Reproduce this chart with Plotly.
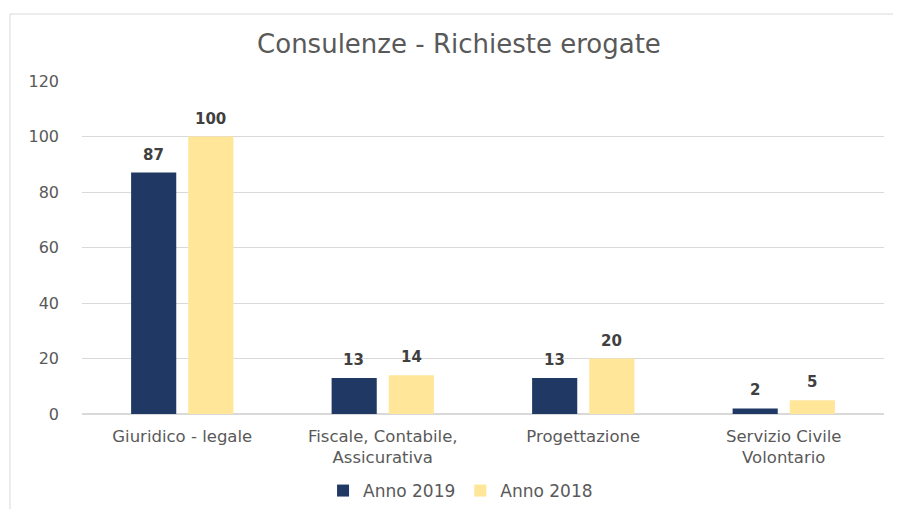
import plotly.graph_objects as go

categories = ["Giuridico - legale", "Fiscale, Contabile,<br>Assicurativa", "Progettazione", "Servizio Civile<br>Volontario"]
anno_2019 = [87, 13, 13, 2]
anno_2018 = [100, 14, 20, 5]
y_ticks = [0, 20, 40, 60, 80, 100, 120]

NAVY = "#1F3864"
YELLOW = "#FFE699"
GREY = "#595959"

# page body adds an 8px margin, so the figure is 8px smaller and coordinates shifted
W, H = 893, 501
L, R, T, B = 74, 17, 73, 95
PW, PH = W - L - R, H - T - B

fig = go.Figure()
fig.add_trace(go.Bar(x=categories, y=anno_2019, name="Anno 2019", marker_color=NAVY,
                     marker_line_width=0))
fig.add_trace(go.Bar(x=categories, y=anno_2018, name="Anno 2018", marker_color=YELLOW,
                     marker_line_width=0))

# data labels above bars
for series, shift in ((anno_2019, -29), (anno_2018, 28.5)):
    for cat, val in zip(categories, series):
        fig.add_annotation(x=cat, y=val, text=str(val), showarrow=False,
                           xshift=shift, yshift=7, yanchor="bottom",
                           font=dict(family="DejaVu Sans", size=15, color="#404040", weight="bold"))

bx = -(L - 2) / PW
by = 1 + (T - 6) / PH
fig.update_layout(
    width=W, height=H,
    margin=dict(l=L, r=R, t=T, b=B, autoexpand=False),
    paper_bgcolor="white", plot_bgcolor="white",
    barmode="group", bargap=0.43, bargroupgap=0.21,
    title=dict(text="Consulenze - Richieste erogate", x=0.505, xanchor="center",
               y=1 - 36 / H, yanchor="middle",
               font=dict(family="DejaVu Sans", size=26, color=GREY)),
    legend=dict(orientation="h", x=0.472, xanchor="center",
                yref="container", y=1 - 483 / H, yanchor="middle",
                font=dict(family="DejaVu Sans", size=17, color=GREY),
                itemwidth=30, traceorder="normal"),
    showlegend=True,
    shapes=[
        dict(type="line", xref="paper", yref="paper", x0=bx, x1=1.1, y0=by, y1=by,
             line=dict(color="#d9d9d9", width=1)),
        dict(type="line", xref="paper", yref="paper", x0=bx, x1=bx, y0=by, y1=-0.4,
             line=dict(color="#d9d9d9", width=1)),
    ],
)
fig.update_yaxes(range=[0, 120], tickvals=y_ticks, showgrid=True, gridcolor="#d9d9d9",
                 zeroline=True, zerolinecolor="#d9d9d9", showline=False,
                 automargin=False, ticklabelstandoff=22,
                 tickfont=dict(family="DejaVu Sans", size=16, color=GREY))
fig.update_xaxes(showline=False, automargin=False, ticklabelstandoff=10,
                 tickfont=dict(family="DejaVu Sans", size=16.5, color=GREY))

fig.write_html("out.html")
